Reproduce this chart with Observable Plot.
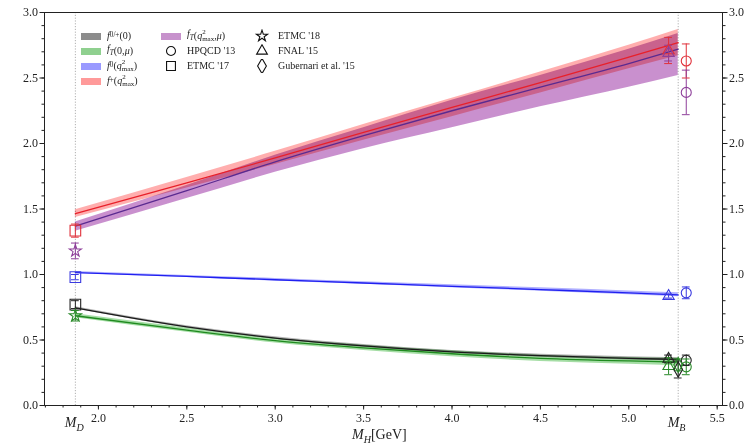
<!DOCTYPE html>
<html><head><meta charset="utf-8">
<script src="https://cdn.jsdelivr.net/npm/d3@7"></script>
<script src="https://cdn.jsdelivr.net/npm/@observablehq/plot@0.6"></script>
<style>
body{margin:0;background:#fff;font-family:"Liberation Serif",serif;color:#222;}
#wrap{position:relative;width:748px;height:445px;overflow:hidden;}
.ov{position:absolute;white-space:nowrap;line-height:1;}
.leg{font-size:10px;display:flex;align-items:center;height:14px;}
.sw{display:inline-block;width:20px;height:7px;margin-right:6px;}
.mk{display:inline-block;width:20px;height:14px;margin-right:6px;}
sub,sup{font-size:72%;}
.ss{display:inline-flex;flex-direction:column;vertical-align:middle;font-size:7px;line-height:7px;}
</style></head><body><div id="wrap"></div><script>
const MD = 1.8696, MB = 5.2794;
// band curves (value and half-width) sampled at mH
const mH          = [MD,    2.5,   3.0,   3.5,   4.0,   4.5,   5.0,   MB];
const fPlusQmax   = [1.465, 1.70,  1.89,  2.085, 2.275, 2.465, 2.66,  2.77];
const fPlusQmaxLo = [0.03,  0.04,  0.05,  0.06,  0.07,  0.08,  0.09,  0.10];
const fPlusQmaxHi = [0.03,  0.04,  0.05,  0.06,  0.07,  0.08,  0.09,  0.10];
const fTQmax      = [1.37,  1.64,  1.86,  2.06,  2.25,  2.43,  2.61,  2.72];
const fTQmaxLo    = [0.04,  0.06,  0.08,  0.10,  0.13,  0.15,  0.18,  0.20];
const fTQmaxHi    = [0.03,  0.04,  0.05,  0.06,  0.08,  0.09,  0.11,  0.12];
const f0Qmax      = [1.015, 0.985, 0.96,  0.935, 0.91,  0.885, 0.86,  0.845];
const f0QmaxErr   = [0.008, 0.008, 0.01,  0.01,  0.012, 0.013, 0.014, 0.015];
const f0p0        = [0.745, 0.60,  0.515, 0.455, 0.41,  0.38,  0.36,  0.352];
const f0p0Err     = [0.008, 0.008, 0.009, 0.01,  0.01,  0.011, 0.012, 0.012];
const fT0         = [0.685, 0.575, 0.495, 0.44,  0.395, 0.36,  0.34,  0.332];
const fT0Err      = [0.015, 0.016, 0.018, 0.02,  0.022, 0.024, 0.026, 0.028];

// lattice / other results: [series, value, error]
const xFNAL = 5.225, xHPQCD = 5.325, xGub = MB;
const etmc17Series = ["fplusQmax", "f0Qmax", "f0p0"];
const etmc17Val    = [1.335, 0.98, 0.77];
const etmc17Err    = [0.05, 0.02, 0.03];
const etmc18Series = ["fTQmax", "fT0"];
const etmc18Val    = [1.18, 0.685];
const etmc18Err    = [0.06, 0.04];
const fnalSeries   = ["fplusQmax", "fTQmax", "f0Qmax", "f0p0", "fT0"];
const fnalVal      = [2.71, 2.69, 0.835, 0.355, 0.30];
const fnalErr      = [0.10, 0.06, 0.015, 0.03, 0.065];
const hpqcdSeries  = ["fplusQmax", "fTQmax", "f0Qmax", "f0p0", "fT0"];
const hpqcdVal     = [2.63, 2.39, 0.86, 0.345, 0.295];
const hpqcdErr     = [0.13, 0.17, 0.045, 0.04, 0.06];
const gubSeries    = ["f0p0", "fT0"];
const gubVal       = [0.275, 0.31];
const gubErr       = [0.065, 0.045];

const xTicks = [2.0, 2.5, 3.0, 3.5, 4.0, 4.5, 5.0, 5.5];
const yTicks = [0.0, 0.5, 1.0, 1.5, 2.0, 2.5, 3.0];

const lineCol = {fplusQmax:"#e8202a", fTQmax:"#5a2a90", f0Qmax:"#2020f0", f0p0:"#1a1a1a", fT0:"#1f8a1f"};
const bandCol = {fplusQmax:"#ff8c8c", fTQmax:"#c07cc6", f0Qmax:"#8c8cff", f0p0:"#909090", fT0:"#7fcf7f"};
const markCol = {fplusQmax:"#e0303a", fTQmax:"#8e3f9a", f0Qmax:"#3a3ae0", f0p0:"#222", fT0:"#2a8a2a"};

const curves = [
  ["fplusQmax", fPlusQmax, fPlusQmaxLo, fPlusQmaxHi],
  ["fTQmax", fTQmax, fTQmaxLo, fTQmaxHi],
  ["f0Qmax", f0Qmax, f0QmaxErr, f0QmaxErr],
  ["f0p0", f0p0, f0p0Err, f0p0Err],
  ["fT0", fT0, fT0Err, fT0Err]
];
const bandRows = curves.flatMap(([s, v, lo, hi]) => mH.map((x, i) => ({s, x, y: v[i], lo: v[i]-lo[i], hi: v[i]+hi[i]})));

function pts(x, series, val, err) { return series.map((s, i) => ({x, s, y: val[i], e: err[i]})); }
const groups = [
  ["square", 6, pts(MD, etmc17Series, etmc17Val, etmc17Err)],
  ["star", 3.8, pts(MD, etmc18Series, etmc18Val, etmc18Err)],
  ["triangle", 4.2, pts(xFNAL, fnalSeries, fnalVal, fnalErr)],
  ["circle", 5, pts(xHPQCD, hpqcdSeries, hpqcdVal, hpqcdErr)],
  ["diamond", 4.6, pts(xGub, gubSeries, gubVal, gubErr)]
];

const bandOrder = ["fplusQmax", "fTQmax", "f0Qmax", "f0p0", "fT0"];
const marks = [
  Plot.ruleX([MD, MB], {stroke:"#b0b0b0", strokeDasharray:"1.2,1.6", strokeWidth:1}),
];
for (const s of bandOrder) {
  const d = bandRows.filter(r => r.s === s);
  marks.push(Plot.areaY(d, {x:"x", y1:"lo", y2:"hi", fill: bandCol[s], fillOpacity: s==="fTQmax"?0.85:0.7, curve:"monotone-x", mixBlendMode:"multiply"}));
}
for (const s of bandOrder) {
  const d = bandRows.filter(r => r.s === s);
  marks.push(Plot.line(d, {x:"x", y:"y", stroke: lineCol[s], strokeWidth:1.3, curve:"monotone-x"}));
}
const cap = 0.022;
for (const [sym, r, d] of groups) {
  marks.push(Plot.ruleX(d, {x:"x", y1: p => p.y - p.e, y2: p => p.y + p.e, stroke: p => markCol[p.s], strokeWidth:1}));
  marks.push(Plot.ruleY(d, {y: p => p.y - p.e, x1: p => p.x - cap, x2: p => p.x + cap, stroke: p => markCol[p.s], strokeWidth:1}));
  marks.push(Plot.ruleY(d, {y: p => p.y + p.e, x1: p => p.x - cap, x2: p => p.x + cap, stroke: p => markCol[p.s], strokeWidth:1}));
  marks.push(Plot.dot(d, {x:"x", y:"y", symbol: sym, r, fill:"none", stroke: p => markCol[p.s], strokeWidth:1.1}));
}
const xMinor = d3.range(17, 56).map(v => v / 10);
const yMinor = d3.range(0, 31).map(v => v / 10);
marks.push(
  Plot.axisX(xMinor, {tickSize:2.5, fill:"none", tickFormat: () => "", label:null}),
  Plot.axisX(xTicks, {tickSize:4.5, tickFormat: d => d.toFixed(1), label:null, tickPadding:3}),
  Plot.axisY(yMinor, {anchor:"left", tickSize:2.5, fill:"none", tickFormat: () => "", label:null}),
  Plot.axisY(yTicks, {anchor:"left", tickSize:4.5, tickFormat: d => d.toFixed(1), label:null, tickPadding:2}),
  Plot.axisY(yMinor, {anchor:"right", tickSize:2.5, fill:"none", tickFormat: () => "", label:null}),
  Plot.axisY(yTicks, {anchor:"right", tickSize:4.5, tickFormat: d => d.toFixed(1), label:null, tickPadding:2}),
  Plot.frame({stroke:"#222", strokeWidth:1})
);

const plot = Plot.plot({
  width: 748, height: 445,
  marginLeft: 44, marginRight: 26, marginTop: 12, marginBottom: 40,
  x: {domain: [1.695, 5.53]},
  y: {domain: [0, 3]},
  style: {fontFamily: "Liberation Serif, serif", fontSize: "12px", color: "#222", background: "white"},
  marks
});
const wrap = document.getElementById("wrap");
wrap.appendChild(plot);

const xs = plot.scale("x");
function ov(html, left, top, cls, extra) {
  const el = document.createElement("div");
  el.className = "ov " + (cls || "");
  el.innerHTML = html;
  el.style.left = left + "px"; el.style.top = top + "px";
  if (extra) Object.assign(el.style, extra);
  wrap.appendChild(el);
  return el;
}
ov('<i>M</i><sub><i>D</i></sub>', xs.apply(MD) - 10, 416, "", {fontSize:"14px"});
ov('<i>M</i><sub><i>B</i></sub>', xs.apply(MB) - 10, 416, "", {fontSize:"14px"});
ov('<i>M</i><sub><i>H</i></sub>[GeV]', 384 - 32, 428, "", {fontSize:"14px"});

// legend
const qmax = '(<i>q</i><span class="ss"><span>2</span><span>max</span></span>)';
const legend1 = [
  ["#8c8c8c", '<i>f</i><sub>0/+</sub>(0)'],
  ["#8fd08f", '<i>f<sub>T</sub></i>(0, <i>μ</i>)'],
  ["#9a9aff", '<i>f</i><sub>0</sub>' + qmax],
  ["#ff9a9a", '<i>f</i><sub>+</sub>' + qmax]
];
legend1.forEach(([c, t], i) => ov(`<span class="sw" style="background:${c}"></span>${t}`, 81, 29 + i * 15, "leg"));
ov(`<span class="sw" style="background:#c792cc"></span><i>f<sub>T</sub></i>(<i>q</i><span class="ss"><span>2</span><span>max</span></span>, <i>μ</i>)`, 161, 29, "leg");
function symSvg(type, r) {
  const p = d3.symbol(type, Math.PI * r * r)();
  return `<svg class="mk" viewBox="-10 -7 20 14"><path d="${p}" fill="none" stroke="#111" stroke-width="1.1"/></svg>`;
}
ov(symSvg(d3.symbolCircle, 4.5) + "HPQCD '13", 161, 44, "leg");
ov(symSvg(d3.symbolSquare, 5) + "ETMC '17", 161, 59, "leg");
ov(symSvg(d3.symbolStar, 3.5) + "ETMC '18", 252, 29, "leg");
ov(symSvg(d3.symbolTriangle, 4) + "FNAL '15", 252, 44, "leg");
ov(symSvg(d3.symbolDiamond, 4.6) + "Gubernari et al. '15", 252, 59, "leg");
</script></body></html>
